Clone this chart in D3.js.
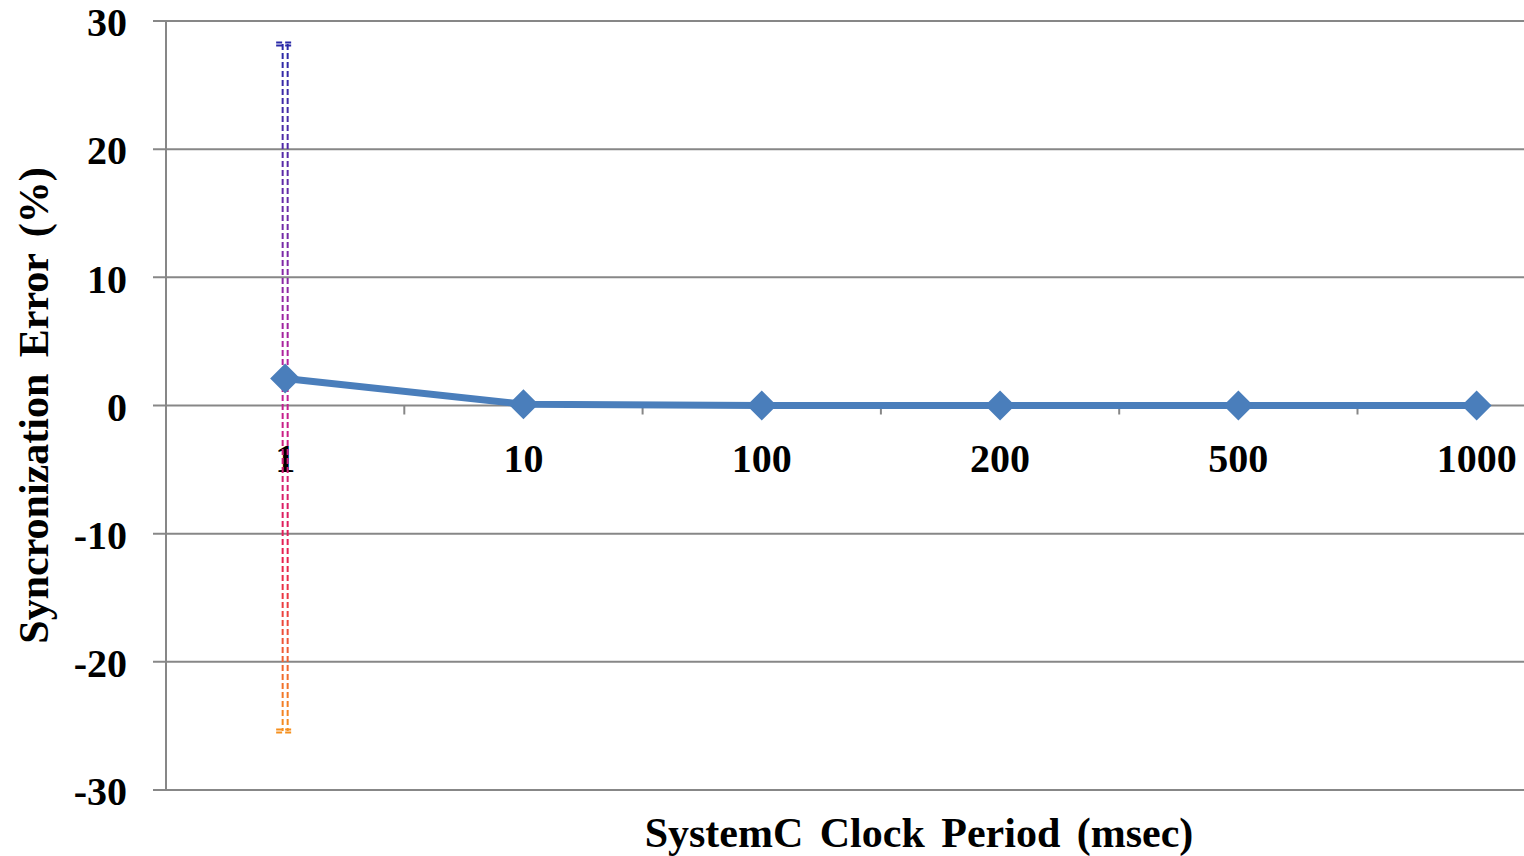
<!DOCTYPE html>
<html>
<head>
<meta charset="utf-8">
<script src="https://cdn.jsdelivr.net/npm/d3@7"></script>
<style>
  html, body { margin: 0; padding: 0; background: #fff; overflow: hidden; }
  svg { display: block; }
  text { font-family: "Liberation Serif", "Times New Roman", serif; font-weight: bold; fill: #000; }
</style>
</head>
<body>
<svg id="chart" width="1524" height="856"></svg>
<script>
// Clock period categories (msec) and the measured synchronization error (%)
const periods = ["1", "10", "100", "200", "500", "1000"];
const errorValues = [2.1, 0.1, 0, 0, 0, 0];
// Error range observed at the 1 msec period
const rangeCategory = "1";
const rangeHigh = 28.2;
const rangeLow = -25.4;
// Y axis ticks
const yTicks = [-30, -20, -10, 0, 10, 20, 30];

const svg = d3.select("#chart");
const W = 1524, H = 856;
const plotLeft = 166, plotTop = 21, plotBottom = 790;
const step = 238.3;

const x = d3.scaleBand()
  .domain(periods)
  .range([plotLeft, plotLeft + step * periods.length])
  .padding(0);
const y = d3.scaleLinear().domain([-30, 30]).range([plotBottom, plotTop]);

const gridColor = "#878787";

// Horizontal gridlines with left tick stubs
svg.append("g").selectAll("line")
  .data(yTicks.filter(d => d !== 0))
  .join("line")
  .attr("x1", plotLeft - 13).attr("x2", W)
  .attr("y1", d => y(d)).attr("y2", d => y(d))
  .attr("stroke", gridColor).attr("stroke-width", 2);

// Vertical axis line
svg.append("line")
  .attr("x1", plotLeft).attr("x2", plotLeft)
  .attr("y1", y(30)).attr("y2", y(-30))
  .attr("stroke", gridColor).attr("stroke-width", 2);

// Category axis sitting on zero
svg.append("line")
  .attr("x1", plotLeft - 13).attr("x2", W)
  .attr("y1", y(0)).attr("y2", y(0))
  .attr("stroke", gridColor).attr("stroke-width", 2);

// Category boundary ticks below the zero line
svg.append("g").selectAll("line")
  .data(periods.slice(1))
  .join("line")
  .attr("x1", d => x(d)).attr("x2", d => x(d))
  .attr("y1", y(0)).attr("y2", y(0) + 9)
  .attr("stroke", gridColor).attr("stroke-width", 2);

// Y tick labels
svg.append("g").selectAll("text")
  .data(yTicks)
  .join("text")
  .attr("x", 127)
  .attr("y", d => y(d))
  .attr("dy", "0.38em")
  .attr("text-anchor", "end")
  .attr("font-size", 40)
  .text(d => d);

// Category labels
svg.append("g").selectAll("text")
  .data(periods)
  .join("text")
  .attr("x", d => x(d) + x.bandwidth() / 2)
  .attr("y", y(0) + 66)
  .attr("text-anchor", "middle")
  .attr("font-size", 40)
  .text(d => d);

// Error range drawn as a doubled dashed line with a blue-to-orange gradient
const defs = svg.append("defs");
const grad = defs.append("linearGradient")
  .attr("id", "rangeGrad")
  .attr("gradientUnits", "userSpaceOnUse")
  .attr("x1", 0).attr("x2", 0)
  .attr("y1", y(rangeHigh)).attr("y2", y(rangeLow));
[
  [0, "#2a2aa8"], [0.3, "#7a2aa8"], [0.5, "#c0209a"],
  [0.75, "#e8204e"], [1, "#f5901e"]
].forEach(([o, c]) => grad.append("stop").attr("offset", o).attr("stop-color", c));

const cx = x(rangeCategory) + x.bandwidth() / 2;
const rangeG = svg.append("g")
  .attr("stroke", "url(#rangeGrad)")
  .attr("stroke-width", 2)
  .attr("fill", "none");
[-2.5, 2.5].forEach(off => {
  rangeG.append("line")
    .attr("x1", cx + off).attr("x2", cx + off)
    .attr("y1", y(rangeHigh)).attr("y2", y(rangeLow))
    .attr("stroke-dasharray", "6 3");
});
[rangeHigh, rangeLow].forEach(v => {
  [-1.5, 1.5].forEach(off => {
    rangeG.append("line")
      .attr("x1", cx - 9).attr("x2", cx + 9)
      .attr("y1", y(v) + off).attr("y2", y(v) + off)
      .attr("stroke-dasharray", "6 3");
  });
});

// Series line
const lineColor = "#4a7ebb";
const line = d3.line()
  .x((d, i) => x(periods[i]) + x.bandwidth() / 2)
  .y(d => y(d));
svg.append("path")
  .datum(errorValues)
  .attr("d", line)
  .attr("fill", "none")
  .attr("stroke", lineColor)
  .attr("stroke-width", 7)
  .attr("stroke-linejoin", "round");

// Diamond markers
const r = 15;
svg.append("g").selectAll("path")
  .data(errorValues)
  .join("path")
  .attr("transform", (d, i) => `translate(${x(periods[i]) + x.bandwidth() / 2},${y(d)})`)
  .attr("d", `M0,${-r}L${r},0L0,${r}L${-r},0Z`)
  .attr("fill", lineColor);

// Axis titles
svg.append("text")
  .attr("x", 919)
  .attr("y", 847)
  .attr("text-anchor", "middle")
  .attr("font-size", 42)
  .attr("word-spacing", 6)
  .text("SystemC Clock Period (msec)");

svg.append("text")
  .attr("transform", `translate(48,${(plotTop + plotBottom) / 2}) rotate(-90)`)
  .attr("text-anchor", "middle")
  .attr("font-size", 42)
  .attr("word-spacing", 6)
  .text("Syncronization Error (%)");
</script>
</body>
</html>
